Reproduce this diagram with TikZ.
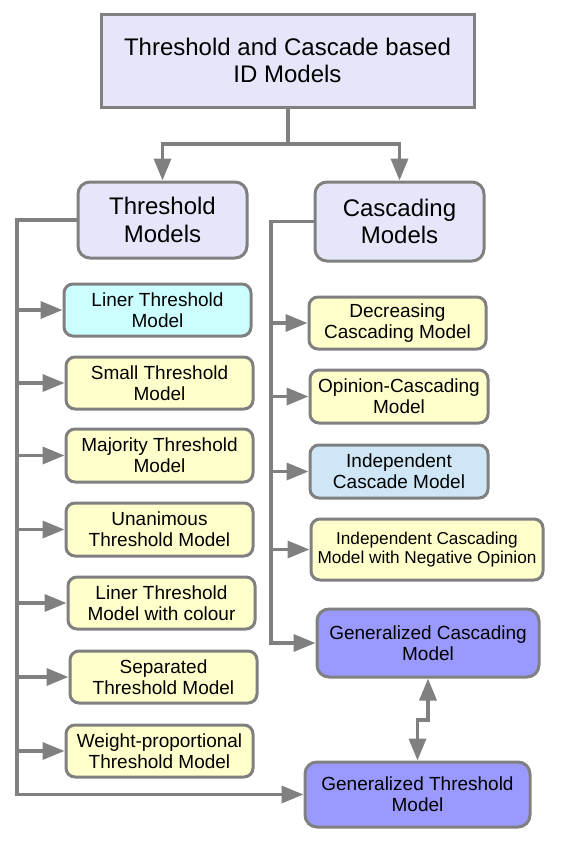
\documentclass[tikz,border=0pt]{standalone}
\usepackage{fontspec}
\setmainfont{Liberation Sans}
\usetikzlibrary{arrows.meta}
\definecolor{bordergray}{RGB}{128,128,128}
\definecolor{lav}{RGB}{230,230,250}
\definecolor{yel}{RGB}{255,255,204}
\definecolor{cya}{RGB}{204,255,255}
\definecolor{lblue}{RGB}{206,230,245}
\definecolor{purp}{RGB}{153,153,255}
\begin{document}
\begin{tikzpicture}[x=1pt,y=-1pt,
  base/.style={draw=bordergray, line width=3pt, align=center, inner sep=0pt, text=black},
  topbox/.style={base, fill=lav, font=\fontsize{24}{27.5}\selectfont},
  headbox/.style={base, fill=lav, rounded corners=12pt, font=\fontsize{24}{27.5}\selectfont},
  childbox/.style={base, rounded corners=9pt, font=\fontsize{19}{21}\selectfont},
  smallbox/.style={base, rounded corners=9pt, font=\fontsize{17.2}{19}\selectfont},
  conn/.style={draw=bordergray, line width=3.5pt},
  arr/.style={conn, -{Triangle[length=22pt,width=17pt]}},
  dblarr/.style={conn, {Triangle[length=22pt,width=17pt]}-{Triangle[length=22pt,width=17pt]}},
  ]
\useasboundingbox (0,0) rectangle (562,846);

% top and headings
\node[topbox, minimum width=373pt, minimum height=93pt] (top) at (287.5,60.5) {Threshold and Cascade based\\ID Models};
\node[headbox, minimum width=169pt, minimum height=76pt] (thr) at (162.5,220) {Threshold\\Models};
\node[headbox, minimum width=169pt, minimum height=79pt] (cas) at (399.5,221.5) {Cascading\\Models};

% left children
\node[childbox, fill=cya, minimum width=187pt, minimum height=52pt] (l1) at (157.5,310) {Liner Threshold\\Model};
\node[childbox, fill=yel, minimum width=187pt, minimum height=52pt] (l2) at (159.5,383) {Small Threshold\\Model};
\node[childbox, fill=yel, minimum width=187pt, minimum height=53pt] (l3) at (159.5,455.5) {Majority Threshold\\Model};
\node[childbox, fill=yel, minimum width=187pt, minimum height=53pt] (l4) at (159.5,529.5) {Unanimous\\Threshold Model};
\node[childbox, fill=yel, minimum width=187pt, minimum height=52pt] (l5) at (161.5,603) {Liner Threshold\\Model with colour};
\node[childbox, fill=yel, minimum width=187pt, minimum height=52pt] (l6) at (163.5,677) {Separated\\Threshold Model};
\node[childbox, fill=yel, minimum width=187pt, minimum height=52pt] (l7) at (159.5,751) {Weight-proportional\\Threshold Model};

% right children
\node[childbox, fill=yel, minimum width=177pt, minimum height=52pt] (r1) at (397.5,323) {Decreasing\\Cascading Model};
\node[childbox, fill=yel, minimum width=178pt, minimum height=53pt] (r2) at (399,396.5) {Opinion-Cascading\\Model};
\node[childbox, fill=lblue, minimum width=178pt, minimum height=53pt] (r3) at (399,471.5) {Independent\\Cascade Model};
\node[smallbox, fill=yel, minimum width=232pt, minimum height=61pt] (r4) at (427,549.5) {Independent Cascading\\Model with Negative Opinion};

% generalized
\node[childbox, fill=purp, rounded corners=12pt, minimum width=222pt, minimum height=68pt] (gc) at (428,643) {Generalized Cascading\\Model};
\node[childbox, fill=purp, rounded corners=12pt, minimum width=225pt, minimum height=65pt] (gt) at (417.5,794.5) {Generalized Threshold\\Model};

% trunk coordinates
\coordinate (lt) at (17,0);
\coordinate (rt) at (271,0);
\coordinate (split) at (288,144);
\coordinate (mid) at (422,720);

% top split
\draw[conn] (top.south -| split) -- (split);
\draw[arr] (split) -| (thr.north);
\draw[arr] (split) -| (cas.north);

% left trunk
\draw[arr] (thr.west) -| (lt |- gt.west) -- (gt.west);
\foreach \n in {l1,l2,l3,l4,l5,l6,l7}
  \draw[arr] (lt |- \n.west) -- (\n.west);

% right trunk
\draw[arr] (cas.west) -| (rt |- gc.west) -- (gc.west);
\foreach \n in {r1,r2,r3,r4}
  \draw[arr] (rt |- \n.west) -- (\n.west);

% bidirectional link
\draw[dblarr] (gt.north) |- (mid) -| (gc.south);
\end{tikzpicture}
\end{document}
